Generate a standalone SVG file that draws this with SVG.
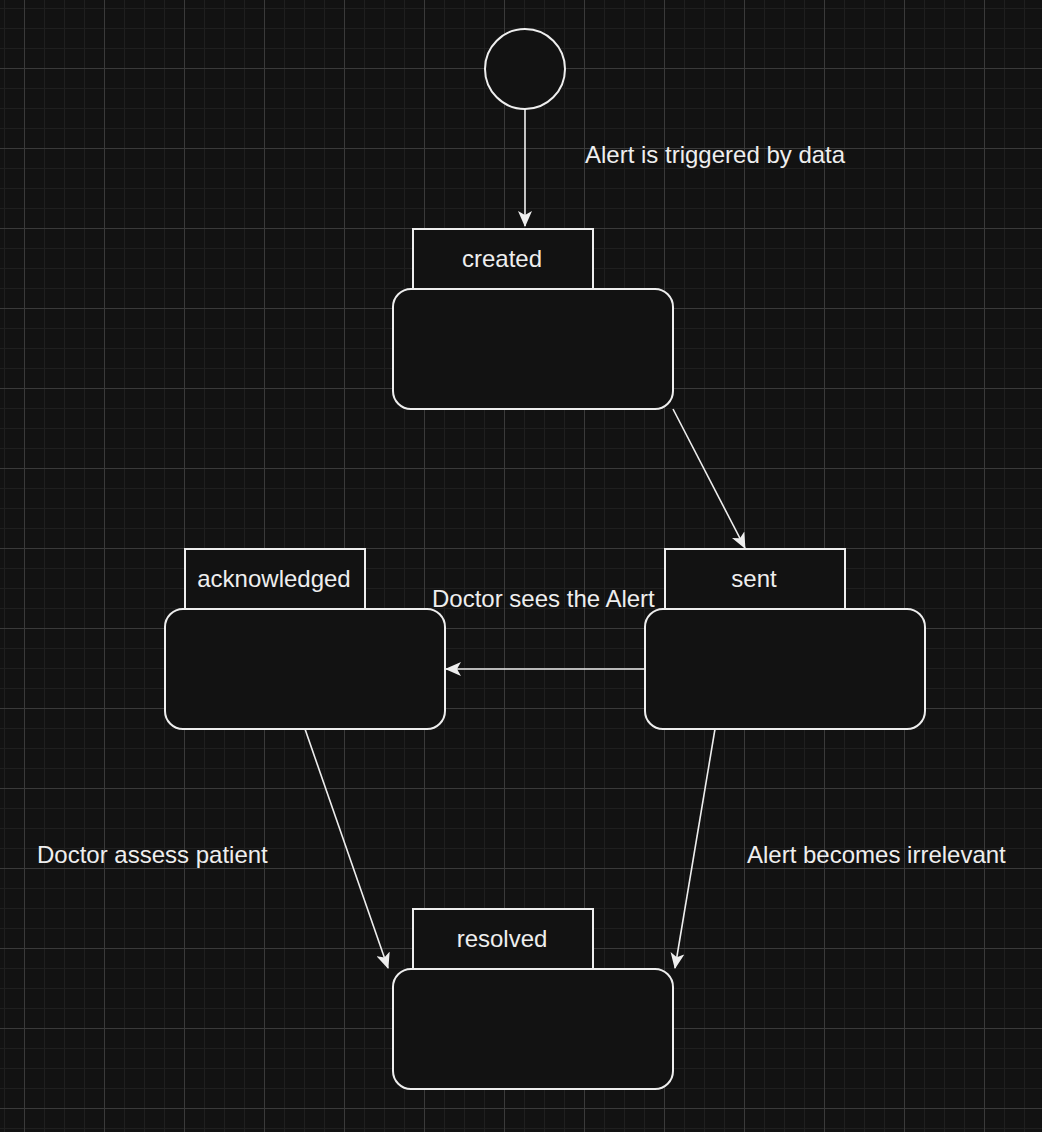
<svg xmlns="http://www.w3.org/2000/svg" width="1042" height="1132" viewBox="0 0 1042 1132">
<defs>
<pattern id="minor" x="4" y="8" width="20" height="20" patternUnits="userSpaceOnUse">
<path d="M0 0H20M0 0V20" fill="none" stroke="#1f1f1f" stroke-width="2"/>
</pattern>
<pattern id="major" x="24" y="68" width="80" height="80" patternUnits="userSpaceOnUse">
<path d="M0 0.5H80M0.5 0V80" fill="none" stroke="#3a3a3a" stroke-width="1"/>
</pattern>
<marker id="arrow" viewBox="0 0 16 14" refX="15" refY="7" markerWidth="16" markerHeight="14" markerUnits="userSpaceOnUse" orient="auto">
<path d="M0 0L16 7L0 14L4 7Z" fill="#eeeeee"/>
</marker>
</defs>
<style>
.box{fill:#121212;stroke:#eeeeee;stroke-width:2}
.lbl{font-family:"Liberation Sans",Arial,sans-serif;font-size:24px;fill:#eeeeee}
.ttl{font-family:"Liberation Sans",Arial,sans-serif;font-size:24px;fill:#eeeeee;text-anchor:middle}
.edge{fill:none;stroke:#eeeeee;stroke-width:1.6;marker-end:url(#arrow)}
</style>
<rect width="1042" height="1132" fill="#121212"/>
<rect width="1042" height="1132" fill="url(#minor)"/>
<rect width="1042" height="1132" fill="url(#major)"/>

<g id="start"><circle cx="525" cy="69" r="40" class="box"/></g>

<g id="created">
<rect x="413" y="229" width="180" height="60" class="box"/>
<rect x="393" y="289" width="280" height="120" rx="18" class="box"/>
<text x="502" y="267" class="ttl">created</text>
</g>
<g id="sent">
<rect x="665" y="549" width="180" height="60" class="box"/>
<rect x="645" y="609" width="280" height="120" rx="18" class="box"/>
<text x="754" y="587" class="ttl">sent</text>
</g>
<g id="acknowledged">
<rect x="185" y="549" width="180" height="60" class="box"/>
<rect x="165" y="609" width="280" height="120" rx="18" class="box"/>
<text x="274" y="587" class="ttl">acknowledged</text>
</g>
<g id="resolved">
<rect x="413" y="909" width="180" height="60" class="box"/>
<rect x="393" y="969" width="280" height="120" rx="18" class="box"/>
<text x="502" y="947" class="ttl">resolved</text>
</g>

<g id="connectors">
<path d="M525 109V226" class="edge"/>
<path d="M673 409L745 548" class="edge"/>
<path d="M645 669H446" class="edge"/>
<path d="M305 729L388 968" class="edge"/>
<path d="M715 729L675 968" class="edge"/>
</g>

<g id="labels">
<text x="585" y="163" class="lbl">Alert is triggered by data</text>
<text x="432" y="607" class="lbl">Doctor sees the Alert</text>
<text x="37" y="863" class="lbl">Doctor assess patient</text>
<text x="747" y="863" class="lbl">Alert becomes irrelevant</text>
</g>
</svg>
